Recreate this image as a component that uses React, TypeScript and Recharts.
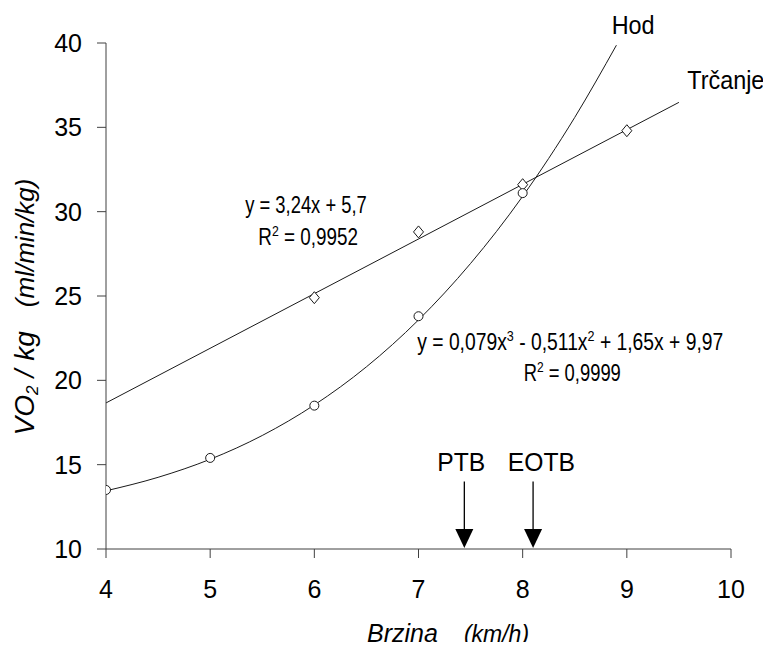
import { ComposedChart, Line, Scatter, XAxis, YAxis, ReferenceDot, ReferenceLine } from 'recharts';

const speedTicks = [4, 5, 6, 7, 8, 9, 10];
const vo2Ticks = [10, 15, 20, 25, 30, 35, 40];

// measured points (km/h, ml/min/kg)
const hodPoints = [
  { x: 4, y: 13.5 },
  { x: 5, y: 15.4 },
  { x: 6, y: 18.5 },
  { x: 7, y: 23.8 },
  { x: 8, y: 31.1 },
];
const trcanjePoints = [
  { x: 6, y: 24.9 },
  { x: 7, y: 28.8 },
  { x: 8, y: 31.6 },
  { x: 9, y: 34.8 },
];

// trend lines
const hodTrend = [
  { x: 4, y: 13.45 },
  { x: 4.5, y: 14.25 },
  { x: 5, y: 15.32 },
  { x: 5.5, y: 16.73 },
  { x: 6, y: 18.54 },
  { x: 6.5, y: 20.8 },
  { x: 7, y: 23.58 },
  { x: 7.5, y: 26.93 },
  { x: 8, y: 30.91 },
  { x: 8.5, y: 35.59 },
  { x: 8.9, y: 39.87 },
];
const trcanjeTrend = [
  { x: 4, y: 18.66 },
  { x: 9.5, y: 36.48 },
];

// thresholds marked with arrows
const thresholds = [
  { name: 'PTB', x: 7.44 },
  { name: 'EOTB', x: 8.1 },
];

// equation texts: [text, superscript] pieces
const hodEquation = [['y = 0,079x', '3'], [' - 0,511x', '2'], [' + 1,65x + 9,97', '']];
const hodR2 = [['R', '2'], [' = 0,9999', '']];
const trcanjeEquation = [['y = 3,24x + 5,7', '']];
const trcanjeR2 = [['R', '2'], [' = 0,9952', '']];

const FONT = '"Liberation Sans", Arial, sans-serif';
const INK = '#1a1a1a';
const AXIS = '#404040';

const Diamond = (p: any) => (
  <polygon
    points={`${p.cx},${p.cy - 6} ${p.cx + 5},${p.cy} ${p.cx},${p.cy + 6} ${p.cx - 5},${p.cy}`}
    fill="#fff"
    stroke={INK}
    strokeWidth={1}
  />
);

const Circle = (p: any) => <circle cx={p.cx} cy={p.cy} r={4.5} fill="#fff" stroke={INK} strokeWidth={1} />;

const Arrowhead = (p: any) => (
  <polygon points={`${p.cx - 9},${p.cy - 20} ${p.cx + 9},${p.cy - 20} ${p.cx},${p.cy - 1}`} fill="#000" />
);

// text pieces with superscripts
function pieces(parts: string[][]) {
  const out: any[] = [];
  let raised = false;
  parts.forEach(([txt, sup], i) => {
    out.push(
      <tspan key={'t' + i} dy={raised ? 9 : undefined}>
        {txt}
      </tspan>
    );
    raised = false;
    if (sup) {
      out.push(
        <tspan key={'s' + i} fontSize={15} dy={-9}>
          {sup}
        </tspan>
      );
      raised = true;
    }
  });
  return out;
}

// text placed at a data position, centred, squeezed horizontally like the original
function note(key: string, x: number, y: number, size: number, sx: number, body: any) {
  return (
    <ReferenceDot
      key={key}
      x={x}
      y={y}
      ifOverflow="visible"
      shape={(p: any) => (
        <g transform={`translate(${p.cx},${p.cy}) scale(${sx},1)`}>
          <text x={0} y={size * 0.36} textAnchor="middle" fontSize={size} fontFamily={FONT} fill="#000">
            {body}
          </text>
        </g>
      )}
    />
  );
}

const YTitle = (props: any) => {
  const vb = props.viewBox;
  const cy = vb.y + vb.height / 2 + 11;
  return (
    <text transform="rotate(-90)" x={-cy} y={vb.x + 34} textAnchor="middle" fontFamily={FONT} fontStyle="italic" fill="#000">
      <tspan fontSize={28}>VO</tspan>
      <tspan fontSize={17} dy={4}>2</tspan>
      <tspan fontSize={28} dy={-4} dx={8}>/</tspan>
      <tspan fontSize={28} dx={9}>kg</tspan>
      <tspan fontSize={26} dx={24}>(ml/min/kg)</tspan>
    </text>
  );
};

const XTitle = (props: any) => {
  const vb = props.viewBox;
  return (
    <text x={vb.x + 261} y={vb.y + 93} textAnchor="start" fontFamily={FONT} fontStyle="italic" fill="#000">
      <tspan fontSize={25}>Brzina</tspan>
      <tspan fontSize={23} dx={26}>(km/h)</tspan>
    </text>
  );
};

export default function App() {
  return (
    <div style={{ margin: -8, width: 771, height: 650, background: '#fff', fontFamily: FONT, overflow: 'hidden' }}>
      <ComposedChart width={771} height={650} margin={{ top: 43, right: 40, bottom: 41, left: 0 }}>
        <XAxis
          type="number"
          dataKey="x"
          domain={[4, 10]}
          ticks={speedTicks}
          allowDataOverflow
          height={60}
          tickSize={9}
          tickMargin={22}
          stroke={AXIS}
          tick={{ fill: '#000', fontSize: 25, fontFamily: FONT }}
          label={{ content: XTitle }}
        />
        <YAxis
          type="number"
          dataKey="y"
          domain={[10, 40]}
          ticks={vo2Ticks}
          allowDataOverflow
          width={106}
          tickSize={9}
          tickMargin={15}
          stroke={AXIS}
          tick={{ fill: '#000', fontSize: 25, fontFamily: FONT }}
          label={{ content: YTitle }}
        />
        <Line data={trcanjeTrend} dataKey="y" type="linear" stroke={INK} strokeWidth={1} dot={false} isAnimationActive={false} />
        <Line data={hodTrend} dataKey="y" type="monotone" stroke={INK} strokeWidth={1} dot={false} isAnimationActive={false} />
        <Scatter data={trcanjePoints} dataKey="y" shape={Diamond} isAnimationActive={false} />
        <Scatter data={hodPoints} dataKey="y" shape={Circle} isAnimationActive={false} />

        {thresholds.map((t) => (
          <ReferenceLine
            key={'l' + t.name}
            segment={[{ x: t.x, y: 14 }, { x: t.x, y: 11 }]}
            stroke="#000"
            strokeWidth={1.3}
            ifOverflow="visible"
          />
        ))}
        {thresholds.map((t) => (
          <ReferenceDot key={'a' + t.name} x={t.x} y={10} ifOverflow="visible" shape={Arrowhead} />
        ))}

        {note('ptb', 7.41, 15.16, 26, 0.95, 'PTB')}
        {note('eotb', 8.18, 15.16, 26, 0.95, 'EOTB')}
        {note('hod', 9.06, 41.1, 26, 0.9, 'Hod')}
        {note('trc', 9.95, 37.8, 26, 0.9, 'Trčanje')}

        {note('e1a', 5.92, 30.39, 23, 0.8, pieces(trcanjeEquation))}
        {note('e1b', 5.94, 28.49, 23, 0.82, pieces(trcanjeR2))}
        {note('e2a', 8.457, 22.27, 23, 0.84, pieces(hodEquation))}
        {note('e2b', 8.476, 20.43, 23, 0.8, pieces(hodR2))}
      </ComposedChart>
    </div>
  );
}
